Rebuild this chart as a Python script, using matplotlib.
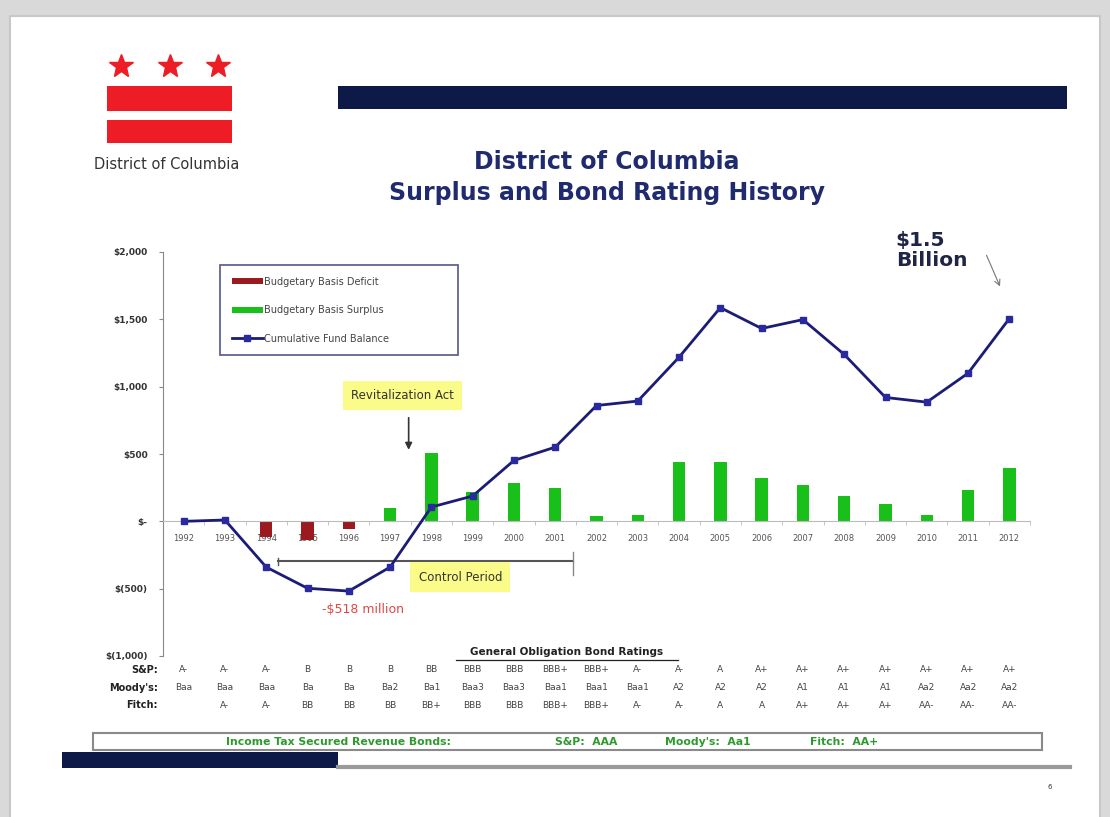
import numpy as np
import matplotlib
matplotlib.use('Agg')
import matplotlib.pyplot as plt
import matplotlib.transforms as mtransforms
from matplotlib.patches import Rectangle

plt.rcParams['font.family'] = ['DejaVu Sans']

'''
Data
'''
years = list(range(1992, 2013))
fund_balance = [0, 10, -340, -497, -518, -340, 106, 188, 452, 551, 860, 893,
                1219, 1587, 1432, 1498, 1239, 920, 885, 1100, 1506]
deficit = [0, 0, -116, -135, -60, 0, 0, 0, 0, 0, 0, 0, 0, 0, 0, 0, 0, 0, 0, 0, 0]
surplus = [0, 0, 0, 0, 0, 100, 507, 217, 282, 245, 37, 45, 440, 440, 321, 267,
           185, 131, 45, 230, 398]

sp_ratings = ['A-', 'A-', 'A-', 'B', 'B', 'B', 'BB', 'BBB', 'BBB', 'BBB+', 'BBB+',
              'A-', 'A-', 'A', 'A+', 'A+', 'A+', 'A+', 'A+', 'A+', 'A+']
moody_ratings = ['Baa', 'Baa', 'Baa', 'Ba', 'Ba', 'Ba2', 'Ba1', 'Baa3', 'Baa3', 'Baa1',
                 'Baa1', 'Baa1', 'A2', 'A2', 'A2', 'A1', 'A1', 'A1', 'Aa2', 'Aa2', 'Aa2']
fitch_ratings = ['', 'A-', 'A-', 'BB', 'BB', 'BB', 'BB+', 'BBB', 'BBB', 'BBB+', 'BBB+',
                 'A-', 'A-', 'A', 'A', 'A+', 'A+', 'A+', 'AA-', 'AA-', 'AA-']

yticks = [-1000, -500, 0, 500, 1000, 1500, 2000]
ytick_labels = ['$(1,000)', '$(500)', '$-', '$500', '$1,000', '$1,500', '$2,000']

navy = '#0d1a47'
title_col = '#1f2b6e'
red_bar = '#9b1a1f'
green_bar = '#19c019'
line_col = '#1c1c78'
green_txt = '#2e9a2e'

W, H = 1110, 817
fig = plt.figure(figsize=(W / 100, H / 100), dpi=100)
fig.patch.set_facecolor('#d9d9d9')

# background layer in pixel coordinates
bg = fig.add_axes([0, 0, 1, 1], zorder=0)
bg.set_xlim(0, W)
bg.set_ylim(H, 0)
bg.axis('off')
bg.add_patch(Rectangle((10, 16), 1090, 820, facecolor='white', edgecolor='#c8c8c8', lw=1.5))

# DC flag logo
bg.add_patch(Rectangle((107, 86), 125, 25, facecolor='#ee1c24', edgecolor='none'))
bg.add_patch(Rectangle((107, 120), 125, 23, facecolor='#ee1c24', edgecolor='none'))
bg.plot([121, 170, 218], [66, 66, 66], ls='none', marker='*', ms=18, color='#ee1c24')
bg.text(167, 164, 'District of Columbia', ha='center', va='center', fontsize=10.5, color='#333333')

# top banner and bottom bars
bg.add_patch(Rectangle((338, 86), 729, 23, facecolor=navy, edgecolor='none'))
bg.plot([338, 1070], [767, 767], color='#9a9a9a', lw=3)
bg.add_patch(Rectangle((62, 752), 276, 16, facecolor=navy, edgecolor='none'))

# title
bg.text(607, 162, 'District of Columbia', ha='center', va='center', fontsize=17,
        fontweight='bold', color=title_col)
bg.text(607, 193, 'Surplus and Bond Rating History', ha='center', va='center', fontsize=17,
        fontweight='bold', color=title_col)

# bottom box
bg.add_patch(Rectangle((93, 733), 949, 17, facecolor='white', edgecolor='#8a8a8a', lw=1.5))
bg.text(226, 742, 'Income Tax Secured Revenue Bonds:', ha='left', va='center',
        fontsize=7.8, fontweight='bold', color=green_txt)
bg.text(555, 742, 'S&P:  AAA', ha='left', va='center', fontsize=7.8, fontweight='bold', color=green_txt)
bg.text(665, 742, "Moody's:  Aa1", ha='left', va='center', fontsize=7.8, fontweight='bold', color=green_txt)
bg.text(810, 742, 'Fitch:  AA+', ha='left', va='center', fontsize=7.8, fontweight='bold', color=green_txt)

bg.text(1050, 787, '6', ha='center', va='center', fontsize=5, color='#333333')

'''
Chart
'''
ax = fig.add_axes([163 / W, 1 - 656 / H, (1030 - 163) / W, (656 - 252) / H], zorder=1)
ax.patch.set_alpha(0)
x = np.arange(len(years))

b1 = ax.bar(x, deficit, width=0.3, color=red_bar, label='Budgetary Basis Deficit', zorder=2)
b2 = ax.bar(x, surplus, width=0.3, color=green_bar, label='Budgetary Basis Surplus', zorder=2)
l1, = ax.plot(x, fund_balance, color=line_col, lw=2, marker='s', ms=5, mfc='#2a2aa0',
              mec='#2a2aa0', label='Cumulative Fund Balance', zorder=3)

ax.set_xlim(-0.5, 20.5)
ax.set_ylim(-1000, 2000)
ax.set_yticks(yticks)
ax.set_yticklabels(ytick_labels, fontsize=6.5, fontweight='bold', color='#333333')
ax.tick_params(axis='y', length=3, color='#888888', pad=8)

ax.spines['top'].set_visible(False)
ax.spines['right'].set_visible(False)
ax.spines['left'].set_color('#888888')
ax.spines['bottom'].set_position(('data', 0))
ax.spines['bottom'].set_color('#bbbbbb')
ax.set_xticks(x)
ax.set_xticklabels([str(y) for y in years], fontsize=6, color='#555555')
ax.set_xticks(np.arange(-0.5, 20.6, 1), minor=True)
ax.tick_params(axis='x', which='major', length=0, pad=9)
ax.tick_params(axis='x', which='minor', length=3, color='#bbbbbb')

leg = ax.legend(handles=[b1, b2, l1], loc='upper left',
                bbox_to_anchor=(220 / W, 1 - 362 / H, 238 / W, 97 / H),
                bbox_transform=fig.transFigure, mode='expand', fontsize=7,
                frameon=True, fancybox=False, edgecolor='#3b3b7a', handlelength=3.2,
                handleheight=0.6, handletextpad=0.1, labelspacing=1.9, borderpad=1.2,
                borderaxespad=0)
leg.get_frame().set_linewidth(1.3)
for t in leg.get_texts():
    t.set_color('#444444')

# annotations
ax.text(5.3, 935, 'Revitalization Act', ha='center', va='center', fontsize=8.5, color='#333333',
        bbox=dict(boxstyle='square,pad=0.7', facecolor='#fbfb8a', edgecolor='none'))
ax.annotate('', xy=(5.45, 510), xytext=(5.45, 790),
            arrowprops=dict(arrowstyle='-|>', color='#333333', lw=1.2))
ax.plot([2.28, 9.43], [-297, -297], color='#555555', lw=1.5, zorder=1)
ax.plot([9.43, 9.43], [-230, -400], color='#888888', lw=1, zorder=1)
ax.plot([2.28, 2.28], [-270, -325], color='#555555', lw=1, zorder=1)
ax.text(6.7, -415, 'Control Period', ha='center', va='center', fontsize=8.5, color='#333333',
        bbox=dict(boxstyle='square,pad=0.7', facecolor='#fbfb8a', edgecolor='none'))
ax.text(4.35, -655, '-$518 million', ha='center', va='center', fontsize=9, color='#e04848')
ax.text(17.25, 2010, '$1.5\nBillion', ha='left', va='center', fontsize=14.5, fontweight='bold',
        color='#1f2545', linespacing=1.1)
ax.annotate('', xy=(19.8, 1725), xytext=(19.42, 1995),
            arrowprops=dict(arrowstyle='->', color='#777777', lw=0.8))

# rating table
trans = mtransforms.blended_transform_factory(ax.transData, bg.transData)
bg.text(567, 652, 'General Obligation Bond Ratings', ha='center', va='center',
        fontsize=7.5, fontweight='bold', color='#222222')
bg.plot([456, 678], [660, 660], color='#222222', lw=0.9)
rows = [('S&P:', sp_ratings, 670), ("Moody's:", moody_ratings, 688), ('Fitch:', fitch_ratings, 705)]
for label, vals, ypix in rows:
    bg.text(158, ypix, label, ha='right', va='center', fontsize=7, fontweight='bold', color='#222222')
    for i, v in enumerate(vals):
        ax.text(i, ypix, v, transform=trans, ha='center', va='center', fontsize=6.5,
                color='#444444', clip_on=False)

fig.savefig('out.png', dpi=100, facecolor=fig.get_facecolor())
